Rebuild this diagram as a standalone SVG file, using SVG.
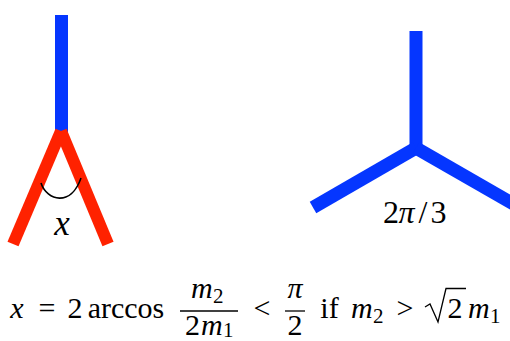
<svg xmlns="http://www.w3.org/2000/svg" width="510" height="341" viewBox="0 0 510 341">
<style>
  .blue { stroke: #0536ff; stroke-width: 13; fill: none; stroke-linecap: butt; }
  .red { stroke: #ff2200; stroke-width: 12; fill: none; stroke-linecap: butt; }
  .arc { stroke: #000; stroke-width: 1.6; fill: none; }
  .t { font-family: "Liberation Serif", "DejaVu Serif", serif; font-size: 30px; fill: #000; }
  .lbl { font-size: 32px; }
  .i { font-style: italic; }
  .sub { font-size: 21px; }
  .rule { stroke: #000; stroke-width: 1.3; fill: none; }
</style>
<rect width="510" height="341" fill="#fff"/>

<g id="left-figure">
  <line class="blue" x1="61.5" y1="15" x2="61.5" y2="133"/>
  <g id="red-branches">
    <line class="red" x1="61" y1="131" x2="13" y2="244"/>
    <line class="red" x1="61" y1="131" x2="108" y2="244"/>
  </g>
  <path class="arc" d="M41,183 C47,201 71,207 81,178"/>
  <text class="t lbl i" x="62" y="235" text-anchor="middle" style="font-size:35px">x</text>
</g>

<g id="right-figure">
  <line class="blue" x1="416" y1="31" x2="416" y2="148"/>
  <line class="blue" x1="416" y1="148" x2="313" y2="207.5"/>
  <line class="blue" x1="416" y1="148" x2="522" y2="209"/>
  <text class="t lbl" y="223" text-anchor="middle"><tspan x="391">2</tspan><tspan class="i" x="406.5">π</tspan><tspan x="423">/</tspan><tspan x="438.5">3</tspan></text>
</g>

<g id="formula">
  <text class="t i" x="17" y="318" text-anchor="middle">x</text>
  <text class="t" x="47" y="318" text-anchor="middle">=</text>
  <text class="t" x="75" y="318" text-anchor="middle">2</text>
  <text class="t" x="126" y="318" text-anchor="middle">arccos</text>
  <text class="t" y="298"><tspan class="i" x="191">m</tspan><tspan class="sub" x="213" dy="5">2</tspan></text>
  <line class="rule" x1="180" y1="311" x2="238" y2="311"/>
  <text class="t" y="335"><tspan x="185">2</tspan><tspan class="i" x="201">m</tspan><tspan class="sub" x="223" dy="2">1</tspan></text>
  <text class="t" x="262" y="318" text-anchor="middle">&lt;</text>
  <text class="t i" x="295" y="298" text-anchor="middle">π</text>
  <line class="rule" x1="285" y1="311" x2="305" y2="311"/>
  <text class="t" x="295" y="335" text-anchor="middle">2</text>
  <text class="t" x="329.5" y="318" text-anchor="middle">if</text>
  <text class="t" y="318"><tspan class="i" x="351">m</tspan><tspan class="sub" x="373" dy="5">2</tspan></text>
  <text class="t" x="405" y="318" text-anchor="middle">&gt;</text>
  <path class="rule" d="M425,307 L430,304 L438,322 L446,288.5 L466,288.5" stroke-linejoin="miter"/>
  <text class="t" x="455" y="318" text-anchor="middle">2</text>
  <text class="t" y="318"><tspan class="i" x="468">m</tspan><tspan class="sub" x="490" dy="5">1</tspan></text>
</g>
</svg>
